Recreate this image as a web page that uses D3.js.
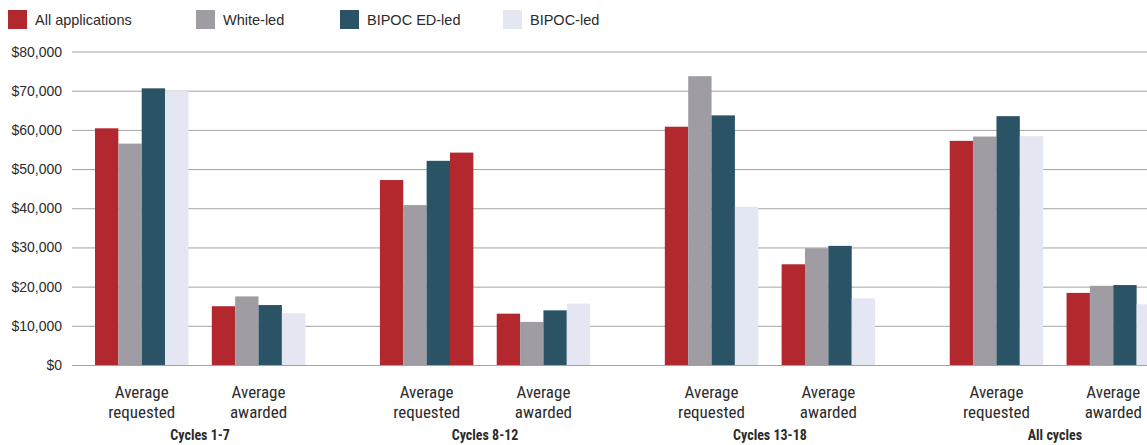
<!DOCTYPE html>
<html>
<head>
<meta charset="utf-8">
<script src="https://cdn.jsdelivr.net/npm/d3@7"></script>
<style>
  body { margin: 0; background: #fff; }
  svg text { font-family: "Liberation Sans", Arial, sans-serif; fill: #2b2b2b; }
  svg text.cond { font-family: "Roboto Condensed", "Liberation Sans Narrow", sans-serif; }
</style>
</head>
<body>
<div id="chart"></div>
<script>
// data
var cycles = ["Cycles 1-7", "Cycles 8-12", "Cycles 13-18", "All cycles"];
var measures = ["requested", "awarded"];
var series = ["All applications", "White-led", "BIPOC ED-led", "BIPOC-led"];

var allApps   = [60400, 15000, 47200, 13100, 60800, 25700, 57200, 18400];
var whiteLed  = [56500, 17500, 40800, 11000, 73700, 29800, 58300, 20200];
var bipocEd   = [70600, 15300, 52100, 13950, 63700, 30400, 63500, 20400];
var bipocLed  = [69900, 13200, 54200, 15650, 40400, 17000, 58400, 15500];

var yTicks = [0, 10000, 20000, 30000, 40000, 50000, 60000, 70000, 80000];

var colors = ["#b3282e", "#a09ca3", "#2b5366", "#e4e6f2"];
// the source colours one bar (Cycles 8-12, requested, BIPOC-led) red instead of lavender
var oddBar = {cycle: 1, measure: 0, series: 3, color: "#b3282e"};

var width = 1147, height = 445;
var svg = d3.select("#chart").append("svg")
  .attr("width", width).attr("height", height);

var y = d3.scaleLinear().domain([0, 80000]).range([365, 51.5]);

var x0 = d3.scaleBand().domain(cycles).range([95, 1160]).paddingInner(0.262).paddingOuter(0);
var x1 = d3.scaleBand().domain(measures).range([0, x0.bandwidth()]).paddingInner(0.2).paddingOuter(0);
var x2 = d3.scaleBand().domain(series).range([0, x1.bandwidth()]).padding(0);

// grid
svg.append("g").selectAll("line")
  .data(yTicks).enter().append("line")
  .attr("x1", 72).attr("x2", width)
  .attr("y1", d => y(d) + 0.5).attr("y2", d => y(d) + 0.5)
  .attr("stroke", "#a3a3a3").attr("stroke-width", 1);

// y labels
svg.append("g").selectAll("text")
  .data(yTicks).enter().append("text")
  .attr("x", 62).attr("y", d => y(d) + 5)
  .attr("text-anchor", "end")
  .style("font-size", "14px")
  .text(d => "$" + d3.format(",")(d));

// bars
var table = [allApps, whiteLed, bipocEd, bipocLed];
var bars = [];
cycles.forEach((c, ci) => {
  measures.forEach((m, mi) => {
    series.forEach((s, si) => {
      var col = colors[si];
      if (ci == oddBar.cycle && mi == oddBar.measure && si == oddBar.series) col = oddBar.color;
      bars.push({c: c, m: m, s: s, v: table[si][ci * 2 + mi], color: col});
    });
  });
});

svg.append("g").selectAll("rect")
  .data(bars).enter().append("rect")
  .attr("x", d => x0(d.c) + x1(d.m) + x2(d.s))
  .attr("y", d => y(d.v))
  .attr("width", x2.bandwidth())
  .attr("height", d => y(0) - y(d.v))
  .attr("fill", d => d.color);

// x labels
var lab = svg.append("g");
cycles.forEach(c => {
  measures.forEach(m => {
    var cx = x0(c) + x1(m) + x1.bandwidth() / 2;
    lab.append("text").attr("class", "cond").attr("x", cx).attr("y", 398).attr("text-anchor", "middle")
      .style("font-size", "17px").text("Average");
    lab.append("text").attr("class", "cond").attr("x", cx).attr("y", 418).attr("text-anchor", "middle")
      .style("font-size", "17px").text(m);
  });
  lab.append("text").attr("class", "cond").attr("x", x0(c) + x0.bandwidth() / 2).attr("y", 440).attr("text-anchor", "middle")
    .style("font-size", "14px").style("font-weight", "bold").text(c);
});

// legend
var legX = [8, 196, 340, 503];
var leg = svg.append("g");
series.forEach((s, i) => {
  leg.append("rect").attr("x", legX[i]).attr("y", 10).attr("width", 19).attr("height", 19)
    .attr("fill", colors[i]);
  leg.append("text").attr("x", legX[i] + 27).attr("y", 25)
    .style("font-size", "14.5px").text(s);
});
</script>
</body>
</html>
